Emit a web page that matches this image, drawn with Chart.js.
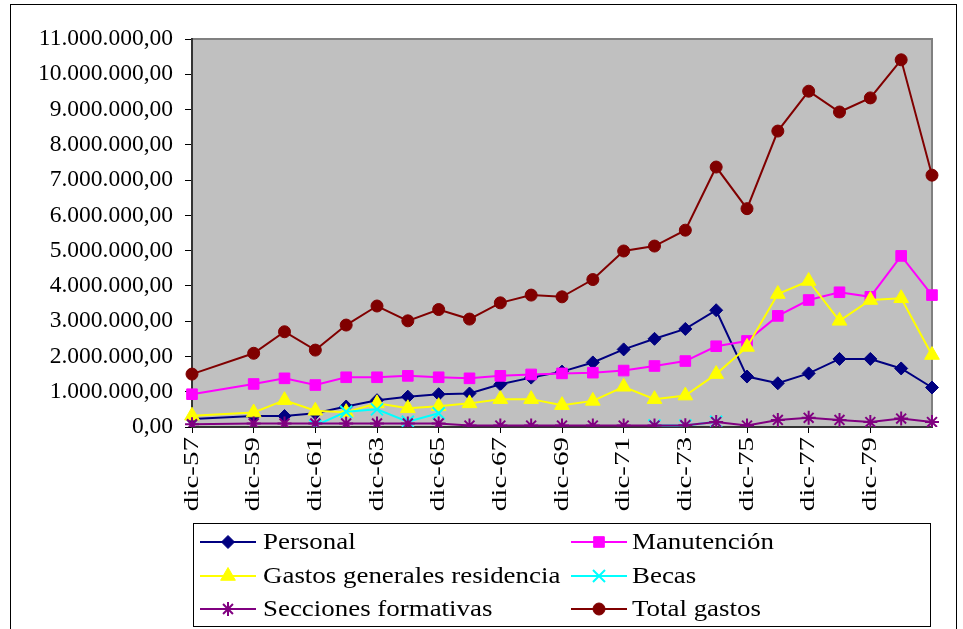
<!DOCTYPE html>
<html>
<head>
<meta charset="utf-8">
<script src="https://cdn.jsdelivr.net/npm/chart.js@4/dist/chart.umd.min.js"></script>
<style>
  html, body { margin: 0; padding: 0; background: #fff; }
  #wrap { position: relative; width: 963px; height: 629px; }
</style>
</head>
<body>
<div id="wrap"><canvas id="gastosChart" width="963" height="629"></canvas></div>
<script>
// Years (December of each year), dic-58 has no data
years = ['dic-57', 'dic-58', 'dic-59', 'dic-60', 'dic-61', 'dic-62', 'dic-63', 'dic-64', 'dic-65',
         'dic-66', 'dic-67', 'dic-68', 'dic-69', 'dic-70', 'dic-71', 'dic-72', 'dic-73', 'dic-74',
         'dic-75', 'dic-76', 'dic-77', 'dic-78', 'dic-79', 'dic-80', 'dic-81'];

personal = [230000, null, 310000, 310000, 390000, 580000, 760000, 860000, 930000,
            950000, 1210000, 1400000, 1570000, 1830000, 2200000, 2500000, 2780000, 3310000,
            1430000, 1240000, 1520000, 1930000, 1930000, 1660000, 1120000];
manutencion = [930000, null, 1220000, 1380000, 1190000, 1410000, 1410000, 1450000, 1410000,
               1380000, 1450000, 1490000, 1520000, 1540000, 1600000, 1730000, 1870000, 2290000,
               2440000, 3150000, 3600000, 3820000, 3690000, 4850000, 3740000];
gastosGenerales = [320000, null, 410000, 760000, 460000, 420000, 670000, 530000, 590000,
                   670000, 790000, 790000, 620000, 740000, 1140000, 790000, 890000, 1500000,
                   2270000, 3770000, 4140000, 3010000, 3600000, 3650000, 2040000];
becas = [null, null, null, null, 40000, 430000, 500000, 150000, 390000,
         null, null, null, null, null, null, 40000, 40000, 150000,
         null, null, null, null, null, null, null];
secciones = [80000, null, 100000, 100000, 100000, 100000, 100000, 100000, 100000,
             40000, 40000, 40000, 40000, 40000, 40000, 40000, 50000, 140000,
             40000, 200000, 260000, 200000, 140000, 240000, 140000];
totalGastos = [1500000, null, 2090000, 2700000, 2180000, 2890000, 3430000, 3010000, 3330000,
               3060000, 3520000, 3740000, 3690000, 4180000, 4990000, 5130000, 5580000, 7370000,
               6190000, 8390000, 9520000, 8930000, 9330000, 10410000, 7140000];

yTicks = [0, 1000000, 2000000, 3000000, 4000000, 5000000, 6000000, 7000000, 8000000, 9000000, 10000000, 11000000];

const SERIF = '"Liberation Serif", "Times New Roman", serif';

function fmt_es(v) {
    // 11000000 -> 11.000.000,00
    let s = Math.round(v).toString().replace(/\B(?=(\d{3})+(?!\d))/g, '.');
    return s + ',00';
}

function show_year(i) {
    // every second year gets a label and a tick mark, the last one none
    return i % 2 === 0 && i < years.length - 1;
}

function series(label, data, color, style, radius, width) {
    return {
        label: label,
        data: data,
        borderColor: color,
        backgroundColor: color,
        borderWidth: 2,
        pointStyle: style,
        pointRadius: radius,
        pointBackgroundColor: color,
        pointBorderColor: color,
        pointBorderWidth: width,
        tension: 0,
        spanGaps: true
    };
}

datasets = [
    series('Personal', personal, '#000080', 'rectRot', 6.5, 1),
    series('Manutención', manutencion, '#FF00FF', 'rect', 7.5, 1),
    series('Gastos generales residencia', gastosGenerales, '#FFFF00', 'triangle', 8.5, 1),
    series('Becas', becas, '#00FFFF', 'crossRot', 8.5, 2),
    series('Secciones formativas', secciones, '#800080', 'star', 7, 2),
    series('Total gastos', totalGastos, '#800000', 'circle', 6, 1)
];
datasets[3].spanGaps = false;
// later series on top, like the original
datasets.forEach((d, i) => d.order = datasets.length - i);

const frame = {
    id: 'frame',
    beforeDraw(chart) {
        const ctx = chart.ctx, a = chart.chartArea;
        ctx.save();
        ctx.fillStyle = '#fff';
        ctx.fillRect(0, 0, chart.width, chart.height);
        ctx.strokeStyle = '#000';
        ctx.lineWidth = 1;
        ctx.strokeRect(10.5, 4.5, 946, 640);
        ctx.fillStyle = '#C0C0C0';
        ctx.fillRect(a.left, a.top, a.right - a.left, a.bottom - a.top);
        ctx.strokeStyle = '#808080';
        ctx.lineWidth = 2;
        ctx.strokeRect(a.left, a.top, a.right - a.left, a.bottom - a.top);
        ctx.restore();
    }
};

// vertical year labels, a bit stretched along the text like the original
const yearLabels = {
    id: 'yearLabels',
    afterDraw(chart) {
        const ctx = chart.ctx, xs = chart.scales.x;
        ctx.save();
        ctx.fillStyle = '#000';
        ctx.font = '22px ' + SERIF;
        ctx.textAlign = 'right';
        ctx.textBaseline = 'middle';
        years.forEach((lbl, i) => {
            if (!show_year(i)) return;
            ctx.setTransform(1, 0, 0, 1, 0, 0);
            ctx.translate(xs.getPixelForTick(i), xs.top + 10);
            ctx.rotate(-Math.PI / 2);
            ctx.scale(1.32, 1);
            ctx.fillText(lbl, 0, 0);
        });
        ctx.restore();
    }
};

const boxLegend = {
    id: 'boxLegend',
    afterDraw(chart) {
        const ctx = chart.ctx;
        const sets = chart.data.datasets;
        const cols = [[200, 256, 263], [571, 627, 632]];
        const rows = [542, 576, 609];
        ctx.save();
        ctx.strokeStyle = '#000';
        ctx.lineWidth = 1;
        ctx.strokeRect(193.5, 523.5, 737, 103);
        sets.forEach((d, i) => {
            const c = cols[i % 2], y = rows[Math.floor(i / 2)];
            ctx.strokeStyle = d.borderColor;
            ctx.lineWidth = 2;
            ctx.beginPath();
            ctx.moveTo(c[0], y);
            ctx.lineTo(c[1], y);
            ctx.stroke();
            ctx.fillStyle = d.pointBackgroundColor;
            ctx.strokeStyle = d.pointBorderColor;
            ctx.lineWidth = d.pointBorderWidth;
            Chart.helpers.drawPoint(ctx, {
                pointStyle: d.pointStyle, radius: d.pointRadius,
                rotation: 0, borderWidth: d.pointBorderWidth
            }, (c[0] + c[1]) / 2, y);
            ctx.fillStyle = '#000';
            ctx.font = '23px ' + SERIF;
            ctx.textBaseline = 'middle';
            ctx.translate(c[2], y + 1);
            ctx.scale(1.17, 1);
            ctx.fillText(d.label, 0, 0);
            ctx.setTransform(1, 0, 0, 1, 0, 0);
        });
        ctx.restore();
    }
};

new Chart(document.getElementById('gastosChart'), {
    type: 'line',
    data: { labels: years, datasets: datasets },
    plugins: [frame, yearLabels, boxLegend],
    options: {
        responsive: false,
        animation: false,
        events: [],
        layout: { padding: { left: 10, right: 31, top: 39, bottom: 112 } },
        plugins: { legend: { display: false }, tooltip: { enabled: false } },
        scales: {
            x: {
                offset: false,
                afterFit: (s) => { s.height = 90; },
                border: { color: '#333', width: 2 },
                grid: {
                    drawOnChartArea: false,
                    tickLength: 6,
                    color: (c) => show_year(c.index) ? '#000' : 'rgba(0,0,0,0)'
                },
                ticks: {
                    autoSkip: false,
                    minRotation: 90,
                    maxRotation: 90,
                    font: { family: SERIF, size: 22 },
                    callback: () => ''
                }
            },
            y: {
                min: 0,
                max: 11000000,
                afterFit: (s) => { s.width = 182; },
                afterBuildTicks: (s) => { s.ticks = yTicks.map(v => ({ value: v })); },
                border: { color: '#333', width: 2 },
                grid: { drawOnChartArea: false, tickLength: 7, color: '#000' },
                ticks: {
                    padding: 12,
                    color: '#000',
                    font: { family: SERIF, size: 23.5 },
                    callback: (v) => fmt_es(v)
                }
            }
        }
    }
});
</script>
</body>
</html>
